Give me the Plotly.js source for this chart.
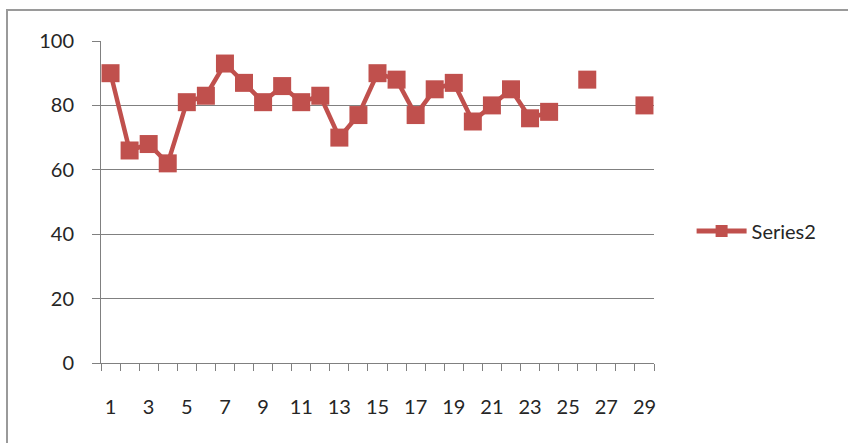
<!DOCTYPE html>
<html>
<head>
<meta charset="utf-8">
<script src="https://cdn.plot.ly/plotly-3.0.1.min.js"></script>
<style>
  html, body { margin: 0; padding: 0; background: #fff; }
  #wrap { position: relative; width: 848px; height: 443px; }
  #chart { width: 848px; height: 443px; }
  #frame { position: absolute; left: 6px; top: 9px; right: 0; bottom: 0;
           border-top: 2px solid #9a9a9a; border-left: 2px solid #9a9a9a;
           pointer-events: none; }
</style>
</head>
<body>
<div id="wrap">
  <div id="chart"></div>
  <div id="frame"></div>
</div>
<script>
// Data
const categories = [1,2,3,4,5,6,7,8,9,10,11,12,13,14,15,16,17,18,19,20,21,22,23,24,25,26,27,28,29];
const series2 = [90,66,68,62,81,83,93,87,81,86,81,83,70,77,90,88,77,85,87,75,80,85,76,78,null,88,null,null,80];
const xTickLabels = ['1','3','5','7','9','11','13','15','17','19','21','23','25','27','29'];
const xTickValues = [1,3,5,7,9,11,13,15,17,19,21,23,25,27,29];
const categoryBoundaries = categories.map(c => c - 0.5).concat([categories[categories.length-1] + 0.5]);

const red = '#C0504D';
const grid = '#808080';
const fontFam = 'Lato, "Open Sans", "DejaVu Sans", sans-serif';

const trace = {
  x: categories,
  y: series2,
  name: 'Series2',
  type: 'scatter',
  mode: 'lines+markers',
  connectgaps: false,
  line: { color: red, width: 4.5 },
  marker: { symbol: 'square', size: 18, color: red, line: { width: 0 } }
};

const layout = {
  width: 848, height: 443,
  margin: { l: 101, r: 194, t: 41, b: 80 },
  paper_bgcolor: '#fff', plot_bgcolor: '#fff',
  font: { family: fontFam, size: 20, color: '#262626' },
  showlegend: true,
  legend: {
    x: 1.068, y: 0.41, xanchor: 'left', yanchor: 'middle',
    font: { family: fontFam, size: 20, color: '#262626' },
    itemsizing: 'constant', itemwidth: 50, bgcolor: 'rgba(0,0,0,0)'
  },
  xaxis: {
    range: [0.5, 29.5],
    tickmode: 'array', tickvals: xTickValues, ticktext: xTickLabels,
    ticks: '', showgrid: false, zeroline: false,
    showline: true, linecolor: grid, linewidth: 1,
    ticklabelstandoff: 26,
    minor: { tickmode: 'array', tickvals: categoryBoundaries, ticks: 'outside',
             ticklen: 7, tickcolor: grid, tickwidth: 1, showgrid: false },
    fixedrange: true
  },
  yaxis: {
    range: [0, 100], tickmode: 'linear', tick0: 0, dtick: 20,
    ticks: 'outside', ticklen: 8, tickcolor: grid, tickwidth: 1,
    showgrid: true, gridcolor: grid, gridwidth: 1,
    zeroline: false, showline: true, linecolor: grid, linewidth: 1,
    ticklabelstandoff: 14,
    fixedrange: true
  }
};

Plotly.newPlot('chart', [trace], layout, { displayModeBar: false, staticPlot: true });
</script>
</body>
</html>
